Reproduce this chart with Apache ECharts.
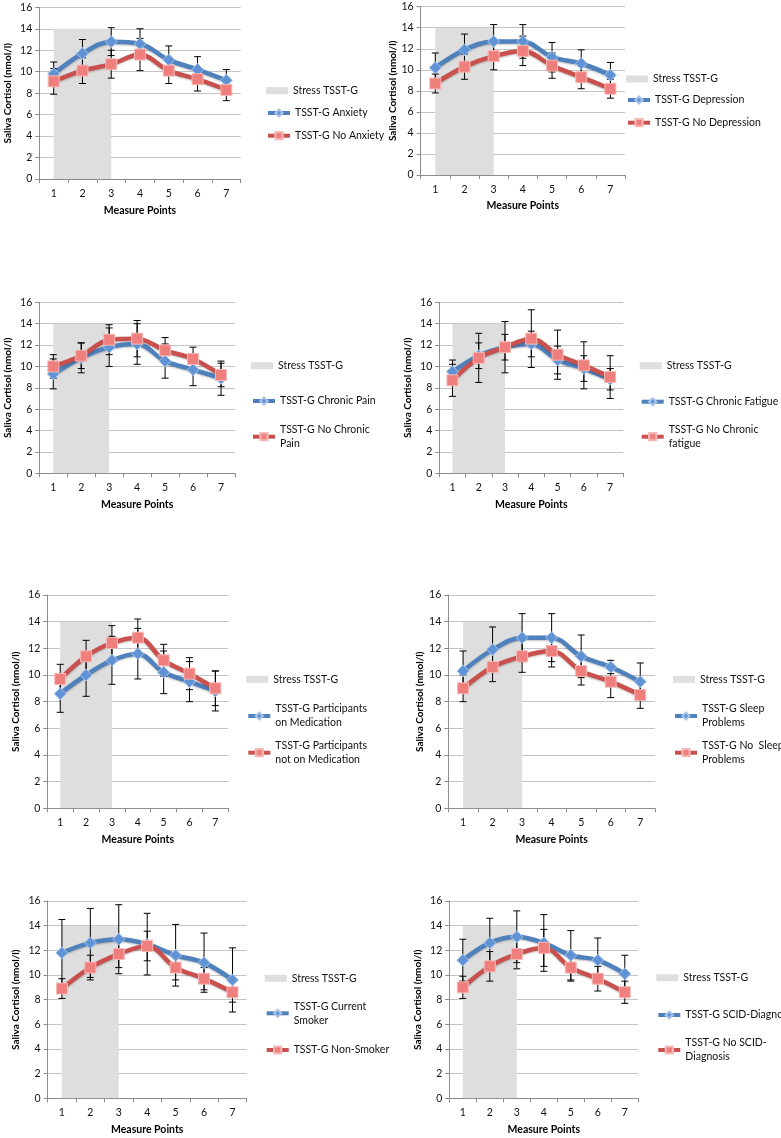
<!DOCTYPE html>
<html><head><meta charset="utf-8">
<script src="https://cdn.jsdelivr.net/npm/echarts@6/dist/echarts.min.js"></script>
<style>html,body{margin:0;padding:0;background:#fff}#c{width:781px;height:1138px}</style>
</head><body><div id="c"></div>
<script>
// ---------- DATA ----------
const measurePoints = ['1', '2', '3', '4', '5', '6', '7'];
const stressBand = [14, 14, 14, '-', '-', '-', '-'];
const stressLabel = 'Stress TSST-G';
const yAxisTitle = 'Saliva Cortisol (nmol/l)';
const xAxisTitle = 'Measure Points';
const yMin = 0, yMax = 16, yStep = 2;

const anxietyNames = ['TSST-G Anxiety', 'TSST-G No Anxiety'];
const anxietyYes = [9.8, 11.7, 12.8, 12.6, 11.1, 10.2, 9.2];
const anxietyYesErr = [1.1, 1.3, 1.3, 1.4, 1.3, 1.2, 1.0];
const anxietyNo = [9.1, 10.1, 10.7, 11.6, 10.1, 9.3, 8.3];
const anxietyNoErr = [1.2, 1.2, 1.3, 1.5, 1.2, 1.1, 1.0];

const depressionNames = ['TSST-G Depression', 'TSST-G No Depression'];
const depressionYes = [10.2, 11.9, 12.7, 12.7, 11.2, 10.6, 9.5];
const depressionYesErr = [1.4, 1.5, 1.6, 1.6, 1.4, 1.3, 1.2];
const depressionNo = [8.7, 10.3, 11.3, 11.8, 10.4, 9.3, 8.2];
const depressionNoErr = [0.9, 1.2, 1.3, 1.4, 1.2, 1.1, 0.9];

const painNames = ['TSST-G Chronic Pain', 'TSST-G No Chronic\nPain'];
const painYes = [9.3, 10.8, 11.8, 12.1, 10.5, 9.7, 8.9];
const painYesErr = [1.4, 1.4, 1.8, 1.9, 1.6, 1.5, 1.6];
const painNo = [10.0, 11.0, 12.5, 12.6, 11.5, 10.7, 9.2];
const painNoErr = [1.1, 1.2, 1.4, 1.7, 1.2, 1.1, 1.1];

const fatigueNames = ['TSST-G Chronic Fatigue', 'TSST-G No Chronic\nfatigue'];
const fatigueYes = [9.5, 11.0, 11.8, 12.1, 10.6, 9.8, 8.8];
const fatigueYesErr = [1.1, 1.2, 1.2, 1.2, 1.3, 1.2, 1.0];
const fatigueNo = [8.7, 10.8, 11.8, 12.6, 11.1, 10.1, 9.0];
const fatigueNoErr = [1.5, 2.3, 2.4, 2.7, 2.3, 2.2, 2.0];

const medicationNames = ['TSST-G Participants\non Medication', 'TSST-G Participants\nnot on Medication'];
const medicationYes = [8.6, 10.0, 11.1, 11.6, 10.2, 9.5, 8.8];
const medicationYesErr = [1.4, 1.6, 1.8, 1.9, 1.6, 1.5, 1.5];
const medicationNo = [9.7, 11.4, 12.4, 12.8, 11.1, 10.1, 9.0];
const medicationNoErr = [1.1, 1.2, 1.3, 1.4, 1.2, 1.2, 1.3];

const sleepNames = ['TSST-G Sleep\nProblems', 'TSST-G No  Sleep\nProblems'];
const sleepYes = [10.3, 11.9, 12.8, 12.8, 11.4, 10.6, 9.5];
const sleepYesErr = [1.5, 1.7, 1.8, 1.8, 1.6, 0.5, 1.4];
const sleepNo = [9.0, 10.6, 11.4, 11.8, 10.3, 9.5, 8.5];
const sleepNoErr = [1.0, 1.1, 1.2, 1.2, 1.05, 1.2, 1.0];

const smokerNames = ['TSST-G Current\nSmoker', 'TSST-G Non-Smoker'];
const smokerYes = [11.8, 12.6, 12.9, 12.5, 11.6, 11.0, 9.6];
const smokerYesErr = [2.7, 2.8, 2.8, 2.5, 2.5, 2.4, 2.6];
const smokerNo = [8.9, 10.6, 11.7, 12.35, 10.6, 9.7, 8.6];
const smokerNoErr = [0.8, 1.0, 1.1, 1.2, 1.0, 0.9, 0.8];

const scidNames = ['TSST-G SCID-Diagnosis', 'TSST-G No SCID-\nDiagnosis'];
const scidYes = [11.2, 12.6, 13.1, 12.6, 11.6, 11.2, 10.1];
const scidYesErr = [1.7, 2.0, 2.1, 2.3, 2.0, 1.8, 1.5];
const scidNo = [9.0, 10.7, 11.7, 12.2, 10.6, 9.7, 8.6];
const scidNoErr = [0.9, 1.2, 1.2, 1.5, 1.1, 1.0, 0.9];

// ---------- PANELS (data refs + layout) ----------
const panels = [
  {names: anxietyNames, yes: anxietyYes, yesErr: anxietyYesErr, no: anxietyNo, noErr: anxietyNoErr,
   grid: {left: 39.3, top: 7.3, width: 201.4, height: 171.7}, yGap: 26.6, xGap: 26, lx: 293, ly: [90.7, 113, 135.7]},
  {names: depressionNames, yes: depressionYes, yesErr: depressionYesErr, no: depressionNo, noErr: depressionNoErr,
   grid: {left: 420.7, top: 6.7, width: 204.3, height: 168.3}, yGap: 22.7, xGap: 25, lx: 653, ly: [79, 100, 122.7]},
  {names: painNames, yes: painYes, yesErr: painYesErr, no: painNo, noErr: painNoErr,
   grid: {left: 39.3, top: 302.3, width: 195.7, height: 171}, yGap: 26.6, xGap: 26, lx: 278, ly: [365.7, 401, 436.7]},
  {names: fatigueNames, yes: fatigueYes, yesErr: fatigueYesErr, no: fatigueNo, noErr: fatigueNoErr,
   grid: {left: 439.3, top: 302.3, width: 184, height: 171}, yGap: 26.6, xGap: 26, lx: 666.7, ly: [365.7, 401.7, 436.7]},
  {names: medicationNames, yes: medicationYes, yesErr: medicationYesErr, no: medicationNo, noErr: medicationNoErr,
   grid: {left: 47.3, top: 595, width: 181, height: 213.3}, yGap: 26.3, xGap: 26, lx: 273.3, ly: [679.3, 716, 752.7]},
  {names: sleepNames, yes: sleepYes, yesErr: sleepYesErr, no: sleepNo, noErr: sleepNoErr,
   grid: {left: 448.3, top: 595, width: 206.7, height: 213.3}, yGap: 24, xGap: 26, lx: 700, ly: [679.3, 716, 752.7]},
  {names: smokerNames, yes: smokerYes, yesErr: smokerYesErr, no: smokerNo, noErr: smokerNoErr,
   grid: {left: 47.7, top: 901, width: 199, height: 197.3}, yGap: 26.7, xGap: 25.5, lx: 291.7, ly: [978.3, 1013.3, 1050]},
  {names: scidNames, yes: scidYes, yesErr: scidYesErr, no: scidNo, noErr: scidNoErr,
   grid: {left: 449.3, top: 901, width: 189, height: 197.3}, yGap: 26.6, xGap: 25.5, lx: 683.3, ly: [977.7, 1015, 1050]}
];

// ---------- STYLE ----------
const FONT = 'Lato, "Open Sans", "DejaVu Sans", sans-serif';
const BLUE_LINE = '#4f81bd', BLUE_FILL = '#5f93d6', BLUE_EDGE = '#a9c4e8';
const RED_LINE = '#c9504d', RED_FILL = '#ef7f7c', RED_EDGE = '#f6b9b7';
const BAND = '#dedede';
const AXIS = '#8c8c8c', GRIDLINE = '#c4c4c4';

function errRender(params, api) {
  const x = api.value(0), v = api.value(1), e = api.value(2);
  const t = api.coord([x, v + e]);
  const b = api.coord([x, v - e]);
  const w = 3.5;
  const st = {stroke: '#000', lineWidth: 1};
  return {type: 'group', children: [
    {type: 'line', shape: {x1: t[0], y1: t[1], x2: b[0], y2: b[1]}, style: st},
    {type: 'line', shape: {x1: t[0] - w, y1: t[1], x2: t[0] + w, y2: t[1]}, style: st},
    {type: 'line', shape: {x1: b[0] - w, y1: b[1], x2: b[0] + w, y2: b[1]}, style: st}
  ]};
}

const grids = [], xAxes = [], yAxes = [], series = [], legends = [];

panels.forEach((p, i) => {
  grids.push(Object.assign({containLabel: false, outerBoundsMode: 'none'}, p.grid));
  xAxes.push({
    type: 'category', gridIndex: i, data: measurePoints, boundaryGap: true,
    name: xAxisTitle, nameLocation: 'middle', nameGap: p.xGap,
    nameTextStyle: {fontFamily: FONT, fontSize: 10.5, fontWeight: 'bold', color: '#000'},
    axisLine: {show: true, lineStyle: {color: AXIS, width: 1}},
    axisTick: {show: true, length: 4, alignWithLabel: false, lineStyle: {color: AXIS}},
    axisLabel: {fontFamily: FONT, fontSize: 10.5, color: '#111', margin: 9},
    splitLine: {show: false}
  });
  yAxes.push({
    type: 'value', gridIndex: i, min: yMin, max: yMax, interval: yStep,
    name: yAxisTitle, nameLocation: 'middle', nameRotate: 90, nameGap: p.yGap,
    nameTextStyle: {fontFamily: FONT, fontSize: 10, fontWeight: 'bold', color: '#000'},
    axisLine: {show: true, lineStyle: {color: AXIS, width: 1}},
    axisTick: {show: true, length: 4, lineStyle: {color: AXIS}},
    axisLabel: {fontFamily: FONT, fontSize: 10.5, color: '#111', margin: 7},
    splitLine: {show: true, lineStyle: {color: GRIDLINE, width: 1}}
  });
  series.push({
    name: stressLabel, type: 'line', xAxisIndex: i, yAxisIndex: i, data: stressBand,
    symbol: 'none', color: BAND, lineStyle: {width: 0, color: BAND},
    areaStyle: {color: BAND, opacity: 1}, z: 1, silent: true, connectNulls: false
  });
  series.push({
    type: 'custom', xAxisIndex: i, yAxisIndex: i, renderItem: errRender, z: 2, silent: true,
    encode: {x: 0, y: 1},
    data: p.yes.map((v, k) => [k, v, p.yesErr[k]])
  });
  series.push({
    type: 'custom', xAxisIndex: i, yAxisIndex: i, renderItem: errRender, z: 2, silent: true,
    encode: {x: 0, y: 1},
    data: p.no.map((v, k) => [k, v, p.noErr[k]])
  });
  series.push({
    name: p.names[0], type: 'line', xAxisIndex: i, yAxisIndex: i, data: p.yes,
    smooth: 0.35, symbol: 'diamond', symbolSize: 12, color: BLUE_LINE, z: 3,
    lineStyle: {width: 4.5, color: BLUE_LINE, shadowColor: 'rgba(0,0,0,0.25)', shadowBlur: 2, shadowOffsetY: 1},
    itemStyle: {color: BLUE_FILL, borderColor: BLUE_EDGE, borderWidth: 1}
  });
  series.push({
    name: p.names[1], type: 'line', xAxisIndex: i, yAxisIndex: i, data: p.no,
    smooth: 0.35, symbol: 'rect', symbolSize: 11, color: RED_LINE, z: 3,
    lineStyle: {width: 4.5, color: RED_LINE, shadowColor: 'rgba(0,0,0,0.25)', shadowBlur: 2, shadowOffsetY: 1},
    itemStyle: {color: RED_FILL, borderColor: RED_EDGE, borderWidth: 1}
  });
  const items = [stressLabel, p.names[0], p.names[1]];
  items.forEach((nm, k) => {
    const multi = nm.indexOf('\n') >= 0;
    const h = multi ? 42 : 14;
    const item = {name: nm};
    if (k === 0) item.icon = 'rect';
    if (multi) item.textStyle = {padding: [14, 0, 0, 0]};
    legends.push({
      orient: 'vertical', left: p.lx - 27, top: p.ly[k] - h / 2, padding: 0,
      itemWidth: 22, itemHeight: k === 0 ? 7 : 9, selectedMode: false,
      lineStyle: {width: 4},
      textStyle: {fontFamily: FONT, fontSize: 10.5, color: '#111', lineHeight: 14},
      data: [item]
    });
  });
});

const chart = echarts.init(document.getElementById('c'), null, {renderer: 'canvas'});
chart.setOption({
  animation: false,
  backgroundColor: '#fff',
  grid: grids, xAxis: xAxes, yAxis: yAxes, series: series, legend: legends
});
</script>
</body></html>
